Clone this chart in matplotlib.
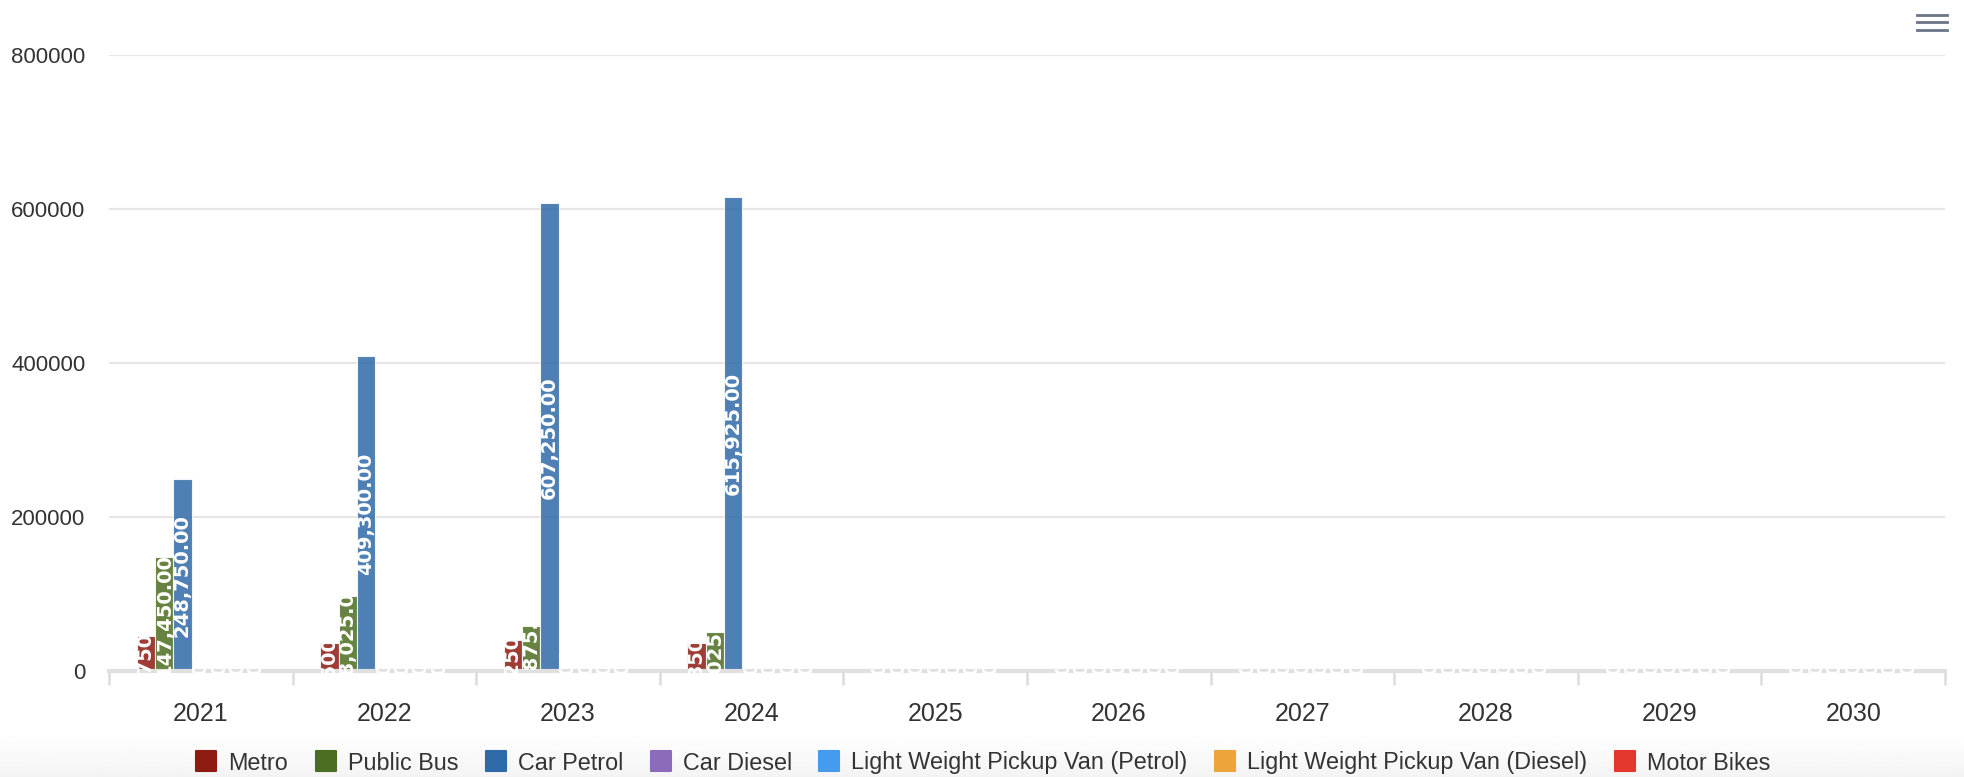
import numpy as np
import matplotlib.pyplot as plt
from matplotlib.lines import Line2D
from matplotlib.markers import MarkerStyle

plt.rcParams['font.family'] = ['Liberation Sans', 'DejaVu Sans']

years = ['2021', '2022', '2023', '2024', '2025', '2026', '2027', '2028', '2029', '2030']
series_names = ['Metro', 'Public Bus', 'Car Petrol', 'Car Diesel',
                'Light Weight Pickup Van (Petrol)', 'Light Weight Pickup Van (Diesel)',
                'Motor Bikes']
colors = ['#8d1b12', '#4b6d21', '#2f6aa8', '#8c6bbd', '#459cee', '#eca43b', '#e2372a']

metro = [45750, 36500, 40250, 36850, 0, 0, 0, 0, 0, 0]
public_bus = [147450, 98025, 58875, 50025, 0, 0, 0, 0, 0, 0]
car_petrol = [248750, 409300, 607250, 615925, 0, 0, 0, 0, 0, 0]
car_diesel = [0, 0, 0, 0, 0, 0, 0, 0, 0, 0]
van_petrol = [0, 0, 0, 0, 0, 0, 0, 0, 0, 0]
van_diesel = [0, 0, 0, 0, 0, 0, 0, 0, 0, 0]
motor_bikes = [0, 0, 0, 0, 0, 0, 0, 0, 0, 0]
all_series = [metro, public_bus, car_petrol, car_diesel, van_petrol, van_diesel, motor_bikes]

W, H = 1965, 777
fig = plt.figure(figsize=(W / 100, H / 100), dpi=100)

# faint grey band behind the legend
bg = fig.add_axes([0, 0, 1, 45 / H], zorder=-5)
grad = np.linspace(1.0, 0.955, 50).reshape(-1, 1)
bg.imshow(grad, aspect='auto', cmap='gray', vmin=0, vmax=1, extent=[0, 1, 0, 1])
bg.set_axis_off()

ax = fig.add_axes([109 / W, 1 - 671 / H, (1945 - 109) / W, (671 - 55) / H])
x = np.arange(len(years))
bw = 0.1
for j, (name, vals, c) in enumerate(zip(series_names, all_series, colors)):
    pos = x - 0.3 + j * bw
    ax.bar(pos, vals, width=bw, color=c, alpha=0.85, edgecolor='white',
           linewidth=0.8, zorder=3)
    for px, v in zip(pos, vals):
        ax.text(px, v / 2, f'{v:,.2f}', rotation=90, ha='center', va='center',
                color='white', fontsize=14, fontweight='bold',
                family='DejaVu Sans', zorder=6, clip_on=False)

ax.set_xlim(-0.5, len(years) - 0.5)
ax.set_ylim(0, 800000)
ax.set_yticks([0, 200000, 400000, 600000, 800000])
ax.set_yticklabels(['0', '200000', '400000', '600000', '800000'])
ax.yaxis.grid(True, color='#e6e6e6', linewidth=1.6, zorder=0)
ax.set_axisbelow(True)

ax.set_xticks(x)
ax.set_xticklabels(years)
ax.set_xticks(np.arange(-0.5, len(years)), minor=True)
ax.tick_params(axis='x', which='major', length=0, pad=22, labelsize=18, labelcolor='#333333')
ax.tick_params(axis='x', which='minor', length=10, width=1.8, color='#dcdcdc')
ax.tick_params(axis='y', length=0, pad=17, labelsize=16, labelcolor='#333333')

for s in ['top', 'right', 'left']:
    ax.spines[s].set_visible(False)
ax.spines['bottom'].set_color('#e0e0e0')
ax.spines['bottom'].set_linewidth(3)
ax.spines['bottom'].set_zorder(4)

handles = [Line2D([], [], linestyle='none',
                  marker=MarkerStyle('s', joinstyle='round'), markersize=15,
                  markerfacecolor=c, markeredgecolor=c, markeredgewidth=1.5)
           for c in colors]
fig.legend(handles, series_names, loc='center', bbox_to_anchor=(0.5, 1 - 763 / H),
           ncol=7, frameon=False, fontsize=16.8, handlelength=1.0,
           handletextpad=0.45, columnspacing=1.1, labelcolor='#333333')

# export menu icon
for yy in [15, 22, 30]:
    fig.add_artist(Line2D([1917 / W, 1947 / W], [1 - yy / H, 1 - yy / H],
                          color='#6b7588', linewidth=2))

fig.savefig('out.png', dpi=100)
